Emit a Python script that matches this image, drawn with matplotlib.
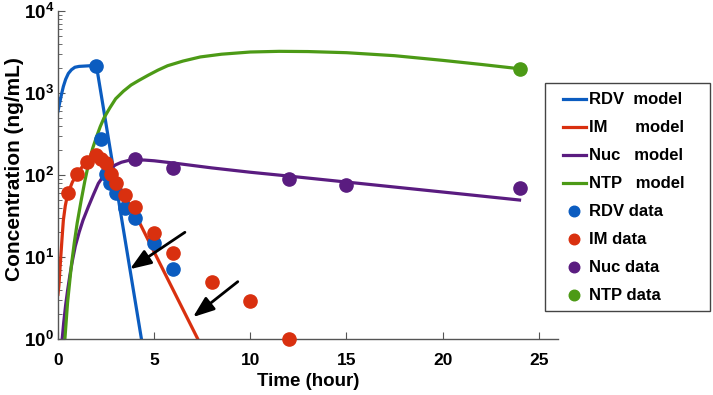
import matplotlib
matplotlib.use("Agg")
import matplotlib.pyplot as plt
from matplotlib.patches import Rectangle
from matplotlib.ticker import FixedLocator, LogLocator, NullFormatter

# ---------------- data ----------------
rdv_data_t = [2.0, 2.25, 2.5, 2.7, 3.0, 3.5, 4.0, 5.0, 6.0]
rdv_data_c = [2150, 275, 103, 80, 61, 40, 30, 15, 7.1]

im_data_t = [0.5, 1.0, 1.5, 2.0, 2.25, 2.5, 2.75, 3.0, 3.5, 4.0, 5.0, 6.0, 8.0, 10.0, 12.0]
im_data_c = [60, 103, 145, 176, 155, 141, 103, 80, 57, 41, 19.5, 11.2, 5.0, 2.9, 1.0]

nuc_data_t = [4.0, 6.0, 12.0, 15.0, 24.0]
nuc_data_c = [155, 122, 90, 75, 70]

ntp_data_t = [24.0]
ntp_data_c = [1975]

rdv_model_t = [0.0, 0.1, 0.2, 0.28, 0.4, 0.54, 0.7, 0.88, 1.1, 1.4, 1.84, 2.0, 4.34, 4.6]
rdv_model_c = [600, 780, 1000, 1200, 1470, 1730, 1920, 2060, 2110, 2130, 2160, 2150, 1.0, 0.42]

im_model_t = [0.0, 0.05, 0.1, 0.16, 0.22, 0.28, 0.38, 0.5, 0.75, 1.0, 1.25, 1.5, 1.75, 2.0,
              2.25, 2.5, 2.75, 3.0, 3.5, 4.17, 5.56, 7.27, 7.6]
im_model_c = [3.5, 4.5, 7.0, 11.2, 18, 28, 42, 58, 82, 103, 125, 145, 163, 176,
              162, 140, 110, 86, 55, 28.3, 6.3, 1.0, 0.7]

nuc_model_t = [0.15, 0.22, 0.3, 0.4, 0.5, 0.62, 0.75, 0.9, 1.1, 1.3, 1.58, 1.85, 2.1, 2.4,
               2.7, 3.0, 3.3, 3.65, 4.0, 4.5, 5.0, 6.0, 8.0, 10.0, 12.0, 15.0, 20.0, 24.0]
nuc_model_c = [0.5, 1.0, 1.6, 2.6, 3.9, 6.0, 9.0, 13.5, 20, 28, 41, 58, 79, 100,
               120, 133, 143, 150, 153, 152, 149, 140, 122, 108, 97, 82, 62, 49.5]

ntp_model_t = [0.3, 0.36, 0.5, 0.7, 0.85, 1.0, 1.2, 1.4, 1.6, 1.8, 2.0, 2.2, 2.4, 2.7, 3.0,
               3.4, 3.8, 4.2, 4.7, 5.2, 5.7, 6.5, 7.4, 8.5, 10.0, 11.5, 13.0, 15.0, 17.5,
               20.0, 22.0, 24.0]
ntp_model_c = [0.6, 1.0, 2.8, 8.0, 15, 26, 48, 85, 140, 210, 290, 390, 500, 660, 850,
               1050, 1250, 1420, 1650, 1900, 2150, 2450, 2750, 2970, 3160, 3220, 3200, 3100,
               2850, 2500, 2230, 1975]

x_ticks = [0, 5, 10, 15, 20, 25]
y_ticks = [1, 10, 100, 1000, 10000]
y_tick_labels = [r"$\mathbf{10^{0}}$", r"$\mathbf{10^{1}}$", r"$\mathbf{10^{2}}$",
                 r"$\mathbf{10^{3}}$", r"$\mathbf{10^{4}}$"]

model_labels = ["RDV  model", "IM      model", "Nuc   model", "NTP   model"]
data_labels = ["RDV data", "IM data", "Nuc data", "NTP data"]

# arrows (tail -> head) in data coordinates
arrow_tails = [(6.6, 20.0), (9.35, 5.0)]
arrow_heads = [(3.74, 7.1), (7.02, 1.85)]

# ---------------- style ----------------
plt.rcParams['font.family'] = ['Liberation Sans', 'DejaVu Sans']
plt.rcParams['font.weight'] = 'bold'
plt.rcParams['mathtext.fontset'] = 'custom'
plt.rcParams['mathtext.rm'] = 'Liberation Sans:bold'
plt.rcParams['mathtext.bf'] = 'Liberation Sans:bold'

c_blue = '#0B5CC0'
c_red = '#D9300F'
c_purple = '#5A1C80'
c_green = '#4C9A16'

fig = plt.figure(figsize=(7.13, 3.95), dpi=100)
ax = fig.add_axes([0.0813, 0.1418, 0.7013, 0.8304])

lw = 2.3
handles = []
for t, c, col, lab in [(rdv_model_t, rdv_model_c, c_blue, model_labels[0]),
                       (im_model_t, im_model_c, c_red, model_labels[1]),
                       (nuc_model_t, nuc_model_c, c_purple, model_labels[2]),
                       (ntp_model_t, ntp_model_c, c_green, model_labels[3])]:
    h, = ax.plot(t, c, color=col, lw=lw, label=lab, zorder=2, solid_joinstyle='round')
    handles.append(h)

for t, c, col, lab in [(rdv_data_t, rdv_data_c, c_blue, data_labels[0]),
                       (im_data_t, im_data_c, c_red, data_labels[1]),
                       (nuc_data_t, nuc_data_c, c_purple, data_labels[2]),
                       (ntp_data_t, ntp_data_c, c_green, data_labels[3])]:
    h, = ax.plot(t, c, linestyle='none', marker='o', markersize=9.5,
                 color=col, markeredgecolor=col, label=lab, zorder=3, clip_on=False)
    handles.append(h)

for (tx, ty), (hx, hy) in zip(arrow_tails, arrow_heads):
    ax.annotate("", xy=(hx, hy), xytext=(tx, ty),
                arrowprops=dict(arrowstyle='-|>,head_length=0.8,head_width=0.3',
                                color='black', lw=2.0,
                                mutation_scale=16, shrinkA=0, shrinkB=0), zorder=4)

ax.set_yscale('log')
ax.set_xlim(0, 26)
ax.set_ylim(1, 10000)
ax.xaxis.set_major_locator(FixedLocator(x_ticks))
ax.set_xticklabels([str(v) for v in x_ticks])
ax.yaxis.set_major_locator(FixedLocator(y_ticks))
ax.set_yticklabels(y_tick_labels)
ax.yaxis.set_minor_locator(LogLocator(base=10, subs=range(2, 10)))
ax.yaxis.set_minor_formatter(NullFormatter())

ax.spines['top'].set_visible(False)
ax.spines['right'].set_visible(False)
for s in ['left', 'bottom']:
    ax.spines[s].set_color('#555555')
    ax.spines[s].set_linewidth(1.0)

ax.tick_params(axis='both', which='both', direction='in', colors='#555555',
               labelcolor='black')
ax.tick_params(axis='x', which='major', length=5, labelsize=12.5, pad=10)
ax.tick_params(axis='y', which='major', length=5, labelsize=13.5, pad=3)
ax.tick_params(axis='y', which='minor', length=3)

ax.set_xlabel("Time (hour)", fontsize=13.5, fontweight='bold', labelpad=4)
ax.set_ylabel("Concentration (ng/mL)", fontsize=15, fontweight='bold')
ax.yaxis.set_label_coords(-0.068, 0.518)

# legend (frame drawn separately so that the padding matches the reference)
leg = fig.legend(handles=handles, loc='upper left', bbox_to_anchor=(0.789, 0.766),
                 bbox_transform=fig.transFigure, fontsize=12, frameon=False,
                 handlelength=1.4, handletextpad=0.2, labelspacing=0.78,
                 borderpad=0.0, borderaxespad=0.0, markerscale=0.8)
for txt in leg.get_texts():
    txt.set_fontweight('bold')
fig.patches.append(Rectangle((0.7644, 0.2127), 0.2314, 0.5772, transform=fig.transFigure,
                             fill=False, edgecolor='#444444', linewidth=1.0, zorder=5))

fig.savefig("out.png", dpi=100)
